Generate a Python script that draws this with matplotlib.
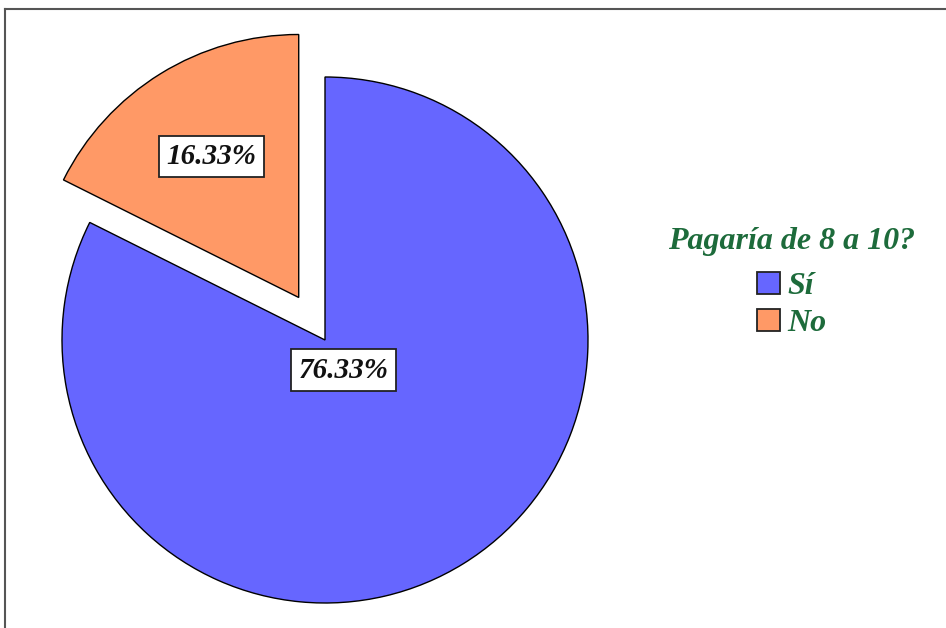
import numpy as np
import matplotlib
matplotlib.use("Agg")
import matplotlib.pyplot as plt
from matplotlib.lines import Line2D

categories = ["Sí", "No"]
values = [76.33, 16.33]
pct_labels = ["76.33%", "16.33%"]
colors = ["#6666FF", "#FF9966"]
legend_title = "Pagaría de 8 a 10?"
green = "#1D6B3B"

W, H = 946, 628
fig = plt.figure(figsize=(W / 100, H / 100), dpi=100)
fig.patch.set_facecolor("white")

R = 263.0
cx, cy = 325.0, 340.0
ax = fig.add_axes([0, 0, 1, 1])
wedges, _ = ax.pie(values, colors=colors, startangle=90, counterclock=False,
                   explode=[0, 0.19], radius=1,
                   wedgeprops=dict(edgecolor="black", linewidth=1.0))
ax.set_xlim(-cx / R, (W - cx) / R)
ax.set_ylim(-(H - cy) / R, cy / R)
ax.set_aspect("auto")
ax.axis("off")

font = dict(family=["Liberation Serif", "DejaVu Serif"], style="italic",
            weight="bold")
dists = [0.135, 0.63]
for w, lab, d in zip(wedges, pct_labels, dists):
    mid = np.deg2rad((w.theta1 + w.theta2) / 2)
    x0, y0 = w.center
    ax.text(x0 + d * np.cos(mid), y0 + d * np.sin(mid), lab, ha="center",
            va="center", fontsize=21, color="#111111", **font,
            bbox=dict(boxstyle="square,pad=0.25", facecolor="white",
                      edgecolor="#222222", linewidth=1.3))

legfont = dict(family=["Liberation Serif"], style="italic", weight="bold",
               size=23)
fig.text(792 / W, 1 - 241 / H, legend_title, ha="center", va="center",
         color=green, **{k: v for k, v in legfont.items() if k != "size"},
         fontsize=23)

handles = [plt.Rectangle((0, 0), 1, 1, facecolor=c, edgecolor="#222222",
                         linewidth=1.3) for c in colors]
leg = fig.legend(handles, categories, loc="center",
                 bbox_to_anchor=(792 / W, 1 - 305 / H), frameon=False,
                 prop=legfont, borderpad=0, borderaxespad=0,
                 handlelength=0.7, handleheight=0.7, handletextpad=0.25,
                 labelspacing=0.22)
for t in leg.get_texts():
    t.set_color(green)

# outer frame lines (top and left)
fig.add_artist(Line2D([5 / W, 1], [1 - 9 / H, 1 - 9 / H], color="#555555",
                      linewidth=1.5, transform=fig.transFigure))
fig.add_artist(Line2D([5 / W, 5 / W], [0, 1 - 9 / H], color="#555555",
                      linewidth=1.5, transform=fig.transFigure))

fig.savefig("out.png", dpi=100)
